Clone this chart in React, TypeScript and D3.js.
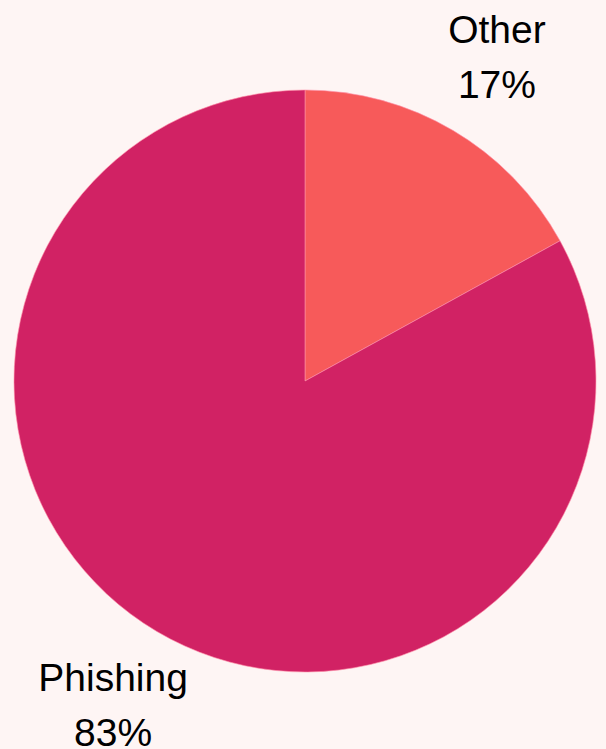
import React from "react";
import * as d3 from "d3";

const categories = ["Other", "Phishing"];
const values = [17, 83];
const colors = ["#f75a5a", "#d12264"];

const W = 606;
const H = 749;
const cx = 305;
const cy = 381;
const R = 291;
const labelR = 377;

export default function App() {
  const data = categories.map((c, i) => ({ name: c, value: values[i], color: colors[i] }));
  const pie = d3.pie<any>().value((d) => d.value).sort(null);
  const arcs = pie(data);
  const arc = d3.arc<any>().innerRadius(0).outerRadius(R);
  const total = d3.sum(values);
  return (
    <svg
      width={W}
      height={H}
      style={{ position: "fixed", left: 0, top: 0, background: "#fef5f4", display: "block" }}
    >
      <rect x={0} y={0} width={W} height={H} fill="#fef5f4" />
      <g transform={`translate(${cx},${cy})`}>
        {arcs.map((a, i) => (
          <path key={i} d={arc(a) as string} fill={a.data.color} stroke="#ff8fa8" strokeOpacity={0.6} strokeWidth={1} />
        ))}
        {arcs.map((a, i) => {
          const mid = (a.startAngle + a.endAngle) / 2;
          const x = labelR * Math.sin(mid);
          const y = -labelR * Math.cos(mid);
          const pct = Math.round((a.data.value / total) * 100);
          return (
            <text
              key={"t" + i}
              textAnchor="middle"
              fontFamily="Liberation Sans, Arial, sans-serif"
              fontSize={39}
              fill="#000"
            >
              <tspan x={x} y={y - 14}>{a.data.name}</tspan>
              <tspan x={x} y={y + 41}>{pct + "%"}</tspan>
            </text>
          );
        })}
      </g>
    </svg>
  );
}
